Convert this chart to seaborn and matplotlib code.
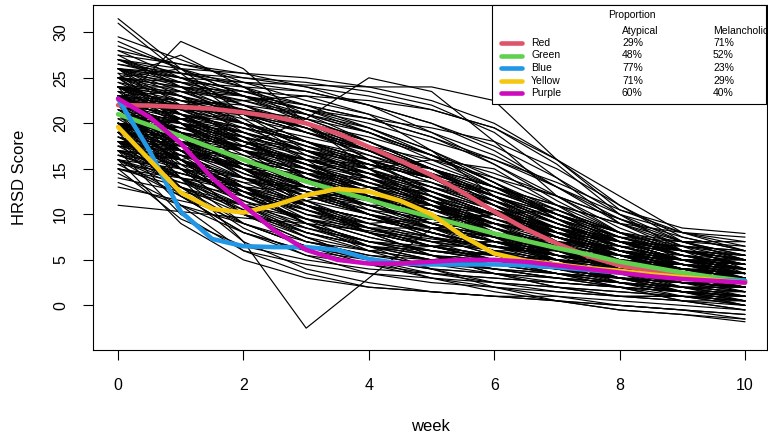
import numpy as np
import pandas as pd
import matplotlib
matplotlib.use("Agg")
import matplotlib.pyplot as plt
from matplotlib.patches import Rectangle
from matplotlib.lines import Line2D
import seaborn as sns

# individual HRSD trajectories at weeks 0..10
weeks = list(range(11))
subject_scores = [
    [31.5, 26, 21, 17, 14, 11.5, 9, 7, 5, 3.5, 2.5],
    [31, 25.5, 20.5, 16.5, 13.5, 11, 8.5, 6.5, 5, 4, 3],
    [22, 29, 26, 20, 16, 12.5, 9.5, 7, 5.5, 4.5, 3.5],
    [25, 27.5, 24, 21, 18, 15, 12, 9, 6.5, 5, 4],
    [17, 16, 17.5, 20.5, 25, 23.5, 18, 12, 8, 6, 5],
    [20, 14, 7, -2.5, 3, 8.5, 9, 7.5, 5.5, 4, 3],
    [11, 10.3, 9.6, 9, 8.2, 7.3, 6.4, 5.5, 4.6, 3.6, 2.8],
    [26, 25, 24.5, 24.2, 24, 24, 22.5, 16, 10.5, 8.5, 7.9],
    [27, 26, 25.5, 25, 24, 22.5, 20, 16, 11, 7, 5],
    [28, 26.5, 25, 24, 23, 21.5, 19.5, 16, 12, 8, 6],
    [26, 25.5, 25, 24.5, 23.5, 22, 19, 14, 9, 6, 4.5],
    [25, 24.5, 24, 23.5, 22, 20, 17, 13, 9, 6.5, 5.5],
    [29.5, 27, 24.5, 22.5, 21, 19, 16.5, 13, 9.5, 6.5, 4],
    [24, 24, 23.5, 23, 22.5, 21.5, 19.5, 15.5, 10, 6, 3.5],
    [27, 25, 23, 21.5, 20.5, 19.5, 18, 15, 11, 7.5, 6],
    [23, 23.5, 23, 22, 20.5, 18.5, 15.5, 12, 8.5, 6, 4.5],
    [23, 21.5, 20, 18, 16, 14, 12, 10, 8, 6.5, 5],
    [22, 20, 18, 16.5, 15, 13, 11, 9, 7, 5.5, 4.5],
    [21, 19.5, 18, 16, 14, 12, 10, 8, 6.5, 5, 4],
    [20, 18.5, 17, 15.5, 14, 12.5, 10.5, 8.5, 6.5, 5, 3.5],
    [24, 22, 20, 18, 16, 14, 11.5, 9, 7, 5.5, 4.5],
    [19, 18, 16.5, 15, 13.5, 12, 10, 8, 6, 4.5, 3],
    [25, 23, 21, 19, 17, 14.5, 12, 9.5, 7, 5, 3.5],
    [18, 17, 15.5, 14, 12.5, 11, 9, 7.5, 6, 4.5, 3.5],
    [22.5, 21.5, 20, 18.5, 17, 15, 12.5, 10, 7.5, 5.5, 4],
    [21.5, 20, 19, 17.5, 15.5, 13, 10.5, 8, 6, 4.5, 3.5],
    [26, 24, 22, 20, 17.5, 15, 12, 9, 6.5, 5, 4],
    [20.5, 20, 19, 17, 15, 12.5, 10, 7.5, 5.5, 4, 3],
    [22, 15, 10, 7.5, 6, 5, 4.5, 4, 3.5, 3, 2.5],
    [19, 12, 8, 6, 5, 4.5, 4, 3.5, 3, 2.5, 2],
    [17, 10, 6, 4.5, 3.5, 3, 2.5, 2, 1.5, 1, 0.5],
    [21, 14, 9, 6.5, 5, 4, 3.5, 3, 2.5, 2, 1.5],
    [24, 16, 11, 8, 6.5, 5.5, 5, 4.5, 4, 3.5, 3],
    [18, 11, 6, 3.5, 2, 1.5, 1, 0.5, 0, -0.5, -1],
    [16, 9, 5, 3, 2, 1.5, 1, 1, 0.5, 0, -0.5],
    [20, 12.5, 7, 4, 2.5, 1.5, 1, 0.5, 0, -0.5, -1.5],
    [23, 17, 12, 9, 7, 6, 5, 4.5, 4, 3.5, 3],
    [15, 9.5, 6.5, 5, 4, 3.5, 3, 2.5, 2, 1.5, 1],
    [19.5, 13, 8.5, 5.5, 3.5, 2.5, 2, 1.5, 1, 1, 0.5],
    [22, 16, 11, 7.5, 5, 3.5, 2.5, 2, 1.5, 1, 0.5],
    [20, 16, 13, 10.5, 8.5, 7, 6, 5, 4.5, 4, 3.5],
    [23, 19, 15.5, 12.5, 10, 8, 6.5, 5.5, 4.5, 4, 3.5],
    [18, 15, 12, 9.5, 7.5, 6, 5, 4, 3, 2.5, 2],
    [21, 17.5, 14.5, 12, 10, 8, 6.5, 5, 4, 3, 2],
    [17, 14, 11.5, 9.5, 8, 6.5, 5.5, 4.5, 3.5, 2.5, 1.5],
    [24, 20, 16.5, 13.5, 11, 9, 7.5, 6, 5, 4, 3],
    [19, 16.5, 14, 11.5, 9, 7, 5, 3.5, 2.5, 1.5, 1],
    [22, 18, 14, 11, 8.5, 6.5, 5, 4, 3, 2, 1],
    [16, 13.5, 11, 9, 7, 5.5, 4, 3, 2, 1, 0],
    [25, 21, 17, 14, 11.5, 9.5, 8, 6.5, 5.5, 5, 4.5],
    [20, 17, 14, 11, 8, 5.5, 3.5, 2, 1, 0.5, 0],
    [18.5, 16, 13.5, 11, 9, 7.5, 6.5, 5.5, 5, 4.5, 4],
    [21.5, 19, 16, 13, 10, 7.5, 5.5, 4, 3, 2.5, 2],
    [15, 13.5, 12, 10.5, 9, 7.5, 6, 4.5, 3, 2, 1],
    [17.5, 16, 14, 12, 10, 8.5, 7, 6, 5, 4, 3],
    [26, 22, 18, 15, 12.5, 10.5, 9, 7.5, 6, 5, 4],
    [23.5, 21, 18, 15, 12, 9.5, 7.5, 6, 5, 4.5, 4],
    [19, 17, 15, 13, 11, 9, 7, 5, 3.5, 2, 0.5],
    [14, 12.5, 11, 9.5, 8, 6.5, 5, 3.5, 2.5, 1.5, 0.5],
    [21, 18.5, 16, 14, 12, 10, 8, 6, 4, 2.5, 1],
    [20, 19.5, 18.5, 17, 14.5, 11.5, 8.5, 5.5, 3, 1.5, 0.5],
    [24, 23, 21.5, 19.5, 17, 14, 10.5, 7, 4, 2, 1],
    [22, 21.5, 21, 20, 18, 15, 11, 7, 4, 2.5, 2],
    [18, 18, 17, 15.5, 13.5, 11, 8, 5, 2.5, 1, 0],
    [25, 24, 22.5, 20.5, 18, 15, 11.5, 8, 5, 3, 1.5],
    [23, 22.5, 22, 21, 19.5, 17, 13.5, 9.5, 6, 4, 3],
    [19, 20.5, 21, 19.5, 16, 12, 8.5, 6, 4.5, 3.5, 3],
    [24, 22, 22.5, 23, 21, 17, 12, 8, 5.5, 4.5, 4],
    [17, 13, 11, 11.5, 13, 12.5, 10, 7, 4.5, 3, 2],
    [21, 17, 13, 10, 9, 9.5, 10, 8.5, 6, 4, 3],
    [26, 23, 19, 16, 15, 16, 15, 11, 7, 5, 4],
    [22, 20, 17, 13, 10, 9, 10, 10.5, 8, 5, 3],
    [16, 12, 8, 5.5, 4.5, 5, 6, 6, 5, 3.5, 2],
    [20, 15, 10, 7, 6, 6.5, 7, 6, 4.5, 3, 2],
    [25, 26, 24, 20, 15, 11, 8, 6, 5, 4.5, 4],
    [18, 14, 10.5, 7.5, 5, 3, 1.5, 0.5, -0.5, -1, -1.8],
    [21, 17, 13, 9.5, 6.5, 4, 2, 0.5, -0.5, -1, -1.5],
    [15.5, 12, 9, 6.5, 4.5, 3, 2, 1, 0, -0.5, -1],
    [23, 19, 15, 11, 8, 5.5, 3.5, 2, 1, 0.5, 0.5],
    [19.5, 16, 12.5, 9, 6, 4, 2.5, 1.5, 1, 1, 1],
    [24, 22.5, 21, 19, 17, 15, 13, 11, 9, 8, 7.5],
    [22, 21, 19.5, 18, 16.5, 14.5, 12.5, 10, 8, 7, 6.5],
    [20, 18, 16, 14.5, 13, 11.5, 10, 8.5, 7.5, 7, 7],
    [26.5, 25, 23.5, 22, 20.5, 18.5, 16, 13, 10, 8, 7],
    [18, 16.5, 15, 13.5, 12, 10.5, 9, 8, 7, 6.5, 6],
    [23, 20, 17, 14.5, 12.5, 11, 9.5, 8, 7, 6.5, 6],
    [27.5, 24, 21, 18, 15.5, 13, 10.5, 8, 6, 4.5, 3.5],
    [28.5, 26, 23, 20, 17, 14, 11, 8.5, 6.5, 5, 4],
    [16.5, 15.5, 14, 12.5, 11, 9, 7, 5, 3.5, 2.5, 2],
    [20, 19, 17.5, 16, 14.5, 13, 11.5, 9.5, 7.5, 5.5, 4],
    [25.5, 24.5, 23, 21, 19, 16.5, 13.5, 10.5, 7.5, 5.5, 4.5],
    [22.5, 20.5, 18.5, 16.5, 14.5, 12.5, 10, 7.5, 5, 3, 2],
    [27, 25.5, 24, 22, 19.5, 16.5, 13, 9.5, 6.5, 4.5, 3.5],
    [13.5, 11, 9, 7, 5.5, 4.5, 3.5, 2.5, 2, 1.5, 1],
    [29, 26, 23, 20.5, 18, 15.5, 13, 10.5, 8, 6, 5],
    [24.5, 23, 21, 19, 17, 15, 13, 11, 9, 7, 5.5],
    [23, 21, 19, 17, 15.5, 14, 12.5, 10.5, 8, 6, 5],
    [21, 19, 17, 15, 13, 11, 9, 7.5, 6, 5, 4.5],
    [19, 17.5, 16, 14.5, 13, 11.5, 10, 8, 6, 4, 2.5],
    [25, 24, 23, 21.5, 19.5, 17, 14, 11, 8, 6, 5],
    [26.5, 25.5, 24.5, 23.5, 22, 20, 17.5, 14, 10, 7, 5.5],
    [24, 23.5, 22.5, 21, 19, 16.5, 13.5, 10, 7, 5, 4],
    [22, 21, 19.5, 18, 16, 13.5, 11, 8.5, 6, 4, 2.5],
    [20, 18, 15.5, 13, 11, 9, 7.5, 6, 5, 4, 3],
    [17, 15, 13, 11, 9.5, 8, 6.5, 5.5, 4.5, 3.5, 2.5],
    [18.5, 15, 12, 9.5, 7.5, 6, 5, 4, 3.5, 3, 2.5],
    [21.5, 17, 13, 10, 8, 6.5, 5.5, 5, 4.5, 4, 4],
    [23.5, 18.5, 14, 10.5, 8, 6.5, 5.5, 4.5, 4, 3.5, 3],
    [16, 13, 10, 8, 6.5, 5.5, 4.5, 3.5, 2.5, 1.5, 1],
    [20.5, 16.5, 12.5, 9, 6.5, 5, 4, 3, 2, 1.5, 1],
    [24.5, 21.5, 18.5, 15.5, 13, 11, 9, 7.5, 6, 5, 4.5],
    [27, 24.5, 22, 19.5, 17, 14.5, 12, 9.5, 7.5, 6, 5.5],
    [26, 25, 23.5, 21.5, 19, 16, 13, 10, 7.5, 6, 5],
    [22.5, 22, 21, 19.5, 17.5, 15, 12, 9, 6.5, 5, 4],
    [19, 18.5, 17.5, 16, 14, 11.5, 9, 6.5, 4.5, 3, 2],
    [17.5, 17, 16, 14.5, 12.5, 10, 7.5, 5, 3, 2, 1.5],
    [21, 20.5, 19.5, 18, 16, 13.5, 10.5, 7.5, 5, 3.5, 3],
    [15, 14, 12.5, 11, 9.5, 8, 6.5, 5, 3.5, 2.5, 2],
    [13, 11.5, 10, 8.5, 7, 5.5, 4.5, 3.5, 3, 2.5, 2],
    [14.5, 11, 8, 6, 4.5, 3.5, 3, 2.5, 2, 1.5, 1.5],
    [18, 13, 9, 6.5, 5, 4, 3.5, 3, 2.5, 2, 2],
    [21, 15.5, 11, 8, 6, 5, 4, 3.5, 3, 3, 3],
    [25.5, 20, 15, 11, 8.5, 7, 6, 5, 4.5, 4, 3.5],
    [23, 20.5, 18, 15.5, 13, 10.5, 8.5, 6.5, 5, 3.5, 2.5],
    [22, 19.5, 17, 14.5, 12, 10, 8, 6.5, 5, 4, 3.5],
    [20, 17.5, 15, 12.5, 10.5, 8.5, 7, 5.5, 4.5, 3.5, 3],
    [24, 21, 18, 15.5, 13.5, 11.5, 10, 8.5, 7, 6, 5],
    [18, 16, 14, 12, 10, 8, 6, 4.5, 3, 1.5, 0],
    [16.5, 14.5, 12.5, 10.5, 8.5, 6.5, 5, 3.5, 2, 0.5, -0.5],
    [20, 18, 16, 13.5, 11, 8.5, 6.5, 4.5, 3, 1.5, 0.5],
    [22, 20, 18, 15.5, 13, 10.5, 8, 6, 4.5, 3.5, 3],
    [26, 24.5, 23, 21.5, 20, 18, 16, 13.5, 10.5, 8, 6.5],
    [23.5, 22.5, 21.5, 20, 18.5, 16.5, 14.5, 12, 9.5, 7.5, 6],
    [21, 20, 18.5, 17, 15.5, 14, 12, 10, 8, 6, 4.5],
    [19.5, 18.5, 17.5, 16, 14.5, 12.5, 10.5, 8.5, 6.5, 5, 4],
    [25, 22.5, 20, 17.5, 15, 12.5, 10, 8, 6, 4.5, 3],
    [27.5, 26.5, 25.5, 24, 22, 19, 15.5, 11.5, 8, 5.5, 4],
    [17, 16.5, 15.5, 14, 12, 10, 8, 6, 4.5, 3.5, 3],
    [22, 22, 21.5, 20.5, 19, 16.5, 13.5, 10, 7, 4.5, 3],
    [24, 22, 19.5, 17, 14, 11, 8.5, 6.5, 5, 4, 3.5],
    [20, 19, 17, 14.5, 11.5, 8.5, 6, 4, 3, 2.5, 2],
    [18.5, 17, 15, 12.5, 10, 7.5, 5.5, 4, 3, 2.5, 2.5],
    [15.5, 14.5, 13, 11.5, 10, 8.5, 7, 5.5, 4.5, 3.5, 3],
    [23, 22, 20.5, 19, 17.5, 16, 14, 12, 9.5, 7, 5],
    [28, 25, 22, 19, 16.5, 14, 11.5, 9, 7, 5.5, 4.5],
    [16, 15, 14, 13, 12, 10.5, 9, 7.5, 6, 5, 4.5],
    [22, 18, 16, 15, 13, 10, 7, 5, 4.5, 4.5, 4],
    [19, 15, 13.5, 13, 12, 10, 7.5, 5.5, 4, 3, 2.5],
    [25, 20, 17, 16, 15.5, 14, 11, 7.5, 5, 4, 3.5],
    [17, 16, 13, 9, 7, 6.5, 6.5, 6, 5, 4, 3],
    [21, 20, 16, 11, 8, 7, 7, 6.5, 5.5, 4.5, 4],
    [23, 22, 18.5, 14, 10.5, 8.5, 7.5, 7, 6.5, 6, 5.5],
    [20, 17, 15, 14.5, 14, 12, 9, 6, 4, 3, 3],
    [26, 21, 17.5, 15.5, 14.5, 13.5, 11.5, 8.5, 5.5, 3.5, 2.5],
    [18, 17.5, 15, 11.5, 8.5, 6.5, 5, 4, 3.5, 3.5, 3.5],
    [24, 23, 20, 16, 12, 9, 7, 5.5, 4.5, 4, 3.5],
    [16, 14, 13, 12.5, 11.5, 10, 8, 6, 4, 2.5, 1.5],
    [22, 19, 15, 12, 11, 11, 10, 8, 5.5, 3.5, 2.5],
    [19, 16, 12, 9.5, 8.5, 8.5, 8, 6.5, 5, 4, 3.5],
    [27, 24, 20, 17.5, 16, 15, 13, 10, 7, 5, 4],
    [21, 18, 14.5, 12, 10.5, 9.5, 8, 6, 3.5, 1.5, 0],
    [18, 15.5, 13, 11, 9.5, 8.5, 7.5, 6.5, 5.5, 5, 5],
    [23, 21, 20, 18, 15, 11.5, 8, 5.5, 4, 3, 2.5],
    [20, 19, 18, 15.5, 12, 9, 7, 6, 5.5, 5, 4.5],
    [15, 13, 10.5, 8, 6.5, 6, 5.5, 5, 4.5, 4, 3.5],
    [24, 20.5, 17, 14, 12, 10.5, 9, 7.5, 5.5, 3.5, 2],
    [17.5, 14, 10, 7, 5.5, 5, 4.5, 3.5, 2, 0.5, -0.5],
    [21, 19.5, 17.5, 15, 12.5, 10, 8, 6.5, 5.5, 5, 5],
    [25, 23.5, 21, 18, 15, 12.5, 10, 8.5, 7, 6, 5],
    [19.5, 17, 14.5, 12.5, 11, 9.5, 8, 7, 6, 5.5, 5],
    [22.5, 19, 15.5, 13, 11.5, 10, 8.5, 7, 5.5, 4, 2.5],
    [16.5, 14, 11, 8.5, 7, 6, 5.5, 5, 4, 3, 2],
    [20, 18, 17, 16, 14, 11, 7.5, 4.5, 2.5, 1.5, 1],
    [23, 20, 18, 17, 16, 14, 11, 8, 6, 5, 4.5],
    [18, 15, 11.5, 8.5, 6.5, 5, 4, 3, 2.5, 2, 2],
    [26, 23.5, 21.5, 19.5, 17, 14, 11, 8.5, 7, 6, 5.5],
    [21, 18, 15, 13, 12, 11, 9.5, 7.5, 5.5, 4, 3],
    [19, 18, 16, 13, 10, 8, 6.5, 5.5, 4.5, 3.5, 2.5],
    [24, 21.5, 19, 17, 15.5, 14, 12, 9.5, 7, 5, 3.5],
    [17, 14.5, 12.5, 11, 9.5, 8, 6, 4, 2.5, 1.5, 1],
    [22, 20.5, 19, 17, 14.5, 12, 9.5, 7.5, 6, 5, 4],
    [20, 16, 12.5, 10, 8.5, 7.5, 6.5, 5.5, 4.5, 3.5, 2.5],
]

# cluster mean curves, read at half-week steps
cluster_weeks = [i * 0.5 for i in range(21)]
red_curve = [22, 21.95, 21.8, 21.6, 21.2, 20.7, 20, 18.9, 17.4, 15.9, 14.3,
             12.4, 10.3, 8.4, 6.8, 5.4, 4.4, 3.8, 3.3, 2.9, 2.6]
green_curve = [21, 19.8, 18.6, 17.3, 16, 14.8, 13.6, 12.6, 11.6, 10.6, 9.7,
               8.8, 7.9, 7.1, 6.3, 5.6, 4.8, 4.2, 3.6, 3.1, 2.7]
blue_curve = [22.7, 17, 10.3, 7.3, 6.5, 6.4, 6.4, 6.1, 5.1, 4.6, 4.5,
              4.5, 4.5, 4.4, 4.2, 3.9, 3.6, 3.3, 3.0, 2.8, 2.7]
yellow_curve = [19.6, 16, 12.4, 10.6, 10.2, 11, 12.1, 12.8, 12.5, 11.5, 10,
                7.6, 5.7, 4.9, 4.5, 4.1, 3.8, 3.4, 3.1, 2.8, 2.5]
purple_curve = [22.7, 20.7, 17.8, 14, 11, 8.2, 6.1, 5, 4.6, 4.6, 4.8,
                5, 5, 4.8, 4.4, 4, 3.6, 3.2, 2.9, 2.7, 2.5]

cluster_names = ["Red", "Green", "Blue", "Yellow", "Purple"]
cluster_colors = ["#DF536B", "#61D04F", "#2297E6", "#F5C710", "#CD0BBC"]
atypical_pct = ["29%", "48%", "77%", "71%", "60%"]
melancholic_pct = ["71%", "52%", "23%", "29%", "40%"]

# long tables for seaborn
subj_df = pd.DataFrame(
    [(i, w, s) for i, row in enumerate(subject_scores) for w, s in zip(weeks, row)],
    columns=["subject", "week", "score"])
curves = [red_curve, green_curve, blue_curve, yellow_curve, purple_curve]
clus_df = pd.DataFrame(
    [(n, w, s) for n, c in zip(cluster_names, curves) for w, s in zip(cluster_weeks, c)],
    columns=["cluster", "week", "score"])

sns.set_style("ticks")
plt.rcParams["font.family"] = ["Liberation Sans", "DejaVu Sans"]
plt.rcParams.update({"text.color": "black", "axes.labelcolor": "black",
                     "xtick.color": "black", "ytick.color": "black"})

W, H = 768, 437
fig = plt.figure(figsize=(W / 100, H / 100), dpi=100)
ax = fig.add_axes([93 / W, 1 - 350 / H, 674 / W, 345 / H])

sns.lineplot(data=subj_df, x="week", y="score", units="subject", estimator=None,
             color="black", linewidth=0.85, ax=ax, legend=False)
sns.lineplot(data=clus_df, x="week", y="score", hue="cluster",
             palette=dict(zip(cluster_names, cluster_colors)), estimator=None,
             linewidth=3.3, ax=ax, legend=False)

ax.set_xlim(-0.4, 10.35)
ax.set_ylim(-4.9, 33)
ax.set_xticks([0, 2, 4, 6, 8, 10])
ax.set_yticks([0, 5, 10, 15, 20, 25, 30])
ax.tick_params(axis="both", direction="out", length=7, width=0.8,
               labelsize=11.5, color="black", labelcolor="black")
ax.tick_params(axis="x", pad=13)
ax.tick_params(axis="y", pad=11)
for lab in ax.get_yticklabels():
    lab.set_rotation(90)
    lab.set_va("center")
ax.set_xlabel("week", fontsize=12, labelpad=19)
ax.set_ylabel("HRSD Score", fontsize=12, labelpad=19)
for sp in ax.spines.values():
    sp.set_visible(True)
    sp.set_linewidth(0.8)
    sp.set_color("black")

# table-style legend in the top right corner
def fx(px):
    return px / W

def fy(py):
    return 1 - py / H

fig.patches.append(Rectangle((fx(492), fy(104)), fx(766) - fx(492), fy(5) - fy(104),
                             transform=fig.transFigure, facecolor="white",
                             edgecolor="black", linewidth=0.8, zorder=5))
fs = 7.5
fig.text(fx(632), fy(15), "Proportion", fontsize=fs, ha="center", va="center", zorder=6)
fig.text(fx(622), fy(31), "Atypical", fontsize=fs, ha="left", va="center", zorder=6)
fig.text(fx(713), fy(31), "Melancholic", fontsize=fs, ha="left", va="center", zorder=6)
row_y = [43, 55.5, 68, 80.5, 93]
for yy, name, col, a, m in zip(row_y, cluster_names, cluster_colors,
                               atypical_pct, melancholic_pct):
    fig.lines.append(Line2D([fx(501), fx(522)], [fy(yy), fy(yy)], color=col,
                            linewidth=3.3, solid_capstyle="round",
                            transform=fig.transFigure, zorder=6))
    fig.text(fx(531), fy(yy), name, fontsize=fs, ha="left", va="center", zorder=6)
    fig.text(fx(622), fy(yy), a, fontsize=fs, ha="left", va="center", zorder=6)
    fig.text(fx(713), fy(yy), m, fontsize=fs, ha="left", va="center", zorder=6)

fig.savefig("out.png", dpi=100)
